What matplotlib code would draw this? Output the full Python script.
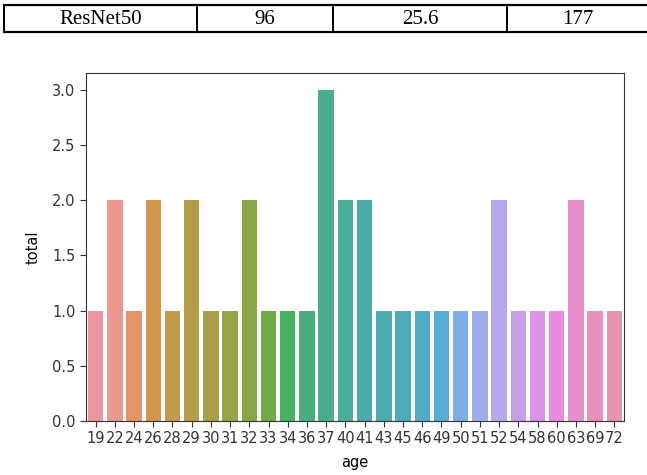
import matplotlib
matplotlib.use("Agg")
from matplotlib import pyplot as plt
import seaborn as sns

# table row above the chart
row_cells = ["ResNet50", "96", "25.6", "177"]
col_edges = [4, 197, 333, 507, 649]

# bar chart data
ages = [19, 22, 24, 26, 28, 29, 30, 31, 32, 33, 34, 36, 37, 40, 41,
        43, 45, 46, 49, 50, 51, 52, 54, 58, 60, 63, 69, 72]
total = [1, 2, 1, 2, 1, 2, 1, 1, 2, 1, 1, 1, 3, 2, 2,
         1, 1, 1, 1, 1, 1, 2, 1, 1, 1, 2, 1, 1]

W, H = 647, 475
fig = plt.figure(figsize=(W / 100, H / 100), dpi=100)

# table drawn in pixel coordinates
tab = fig.add_axes([0, 0, 1, 1])
tab.set_xlim(0, W)
tab.set_ylim(H, 0)
tab.axis("off")
top, bot = 5, 32
tab.plot([col_edges[0], col_edges[-1]], [top, top], color="black", lw=1.6, clip_on=False)
tab.plot([col_edges[0], col_edges[-1]], [bot, bot], color="black", lw=1.6, clip_on=False)
for x in col_edges:
    tab.plot([x, x], [top, bot], color="black", lw=1.4, clip_on=False)
for i, txt in enumerate(row_cells):
    cx = (col_edges[i] + col_edges[i + 1]) / 2
    tab.text(cx, (top + bot) / 2 + 1, txt, ha="center", va="center",
             family="Liberation Serif", fontsize=15)

# old seaborn style colours: husl palette, desaturated
pal = [sns.desaturate(c, 0.75) for c in sns.husl_palette(len(ages), l=.7)]

ax = fig.add_axes([86 / W, 1 - 421 / H, (624 - 86) / W, (421 - 73) / H])
x = range(len(ages))
ax.bar(x, total, width=0.8, color=pal)
ax.set_xlim(-0.5, len(ages) - 0.5)
ax.set_ylim(0, 3.15)
ax.set_xticks(list(x))
ax.set_xticklabels([str(a) for a in ages], fontsize=10.5)
ax.set_yticks([0, 0.5, 1.0, 1.5, 2.0, 2.5, 3.0])
ax.set_yticklabels(["0.0", "0.5", "1.0", "1.5", "2.0", "2.5", "3.0"], fontsize=10.5)
ax.set_xlabel("age", fontsize=10.5, labelpad=6)
ax.set_ylabel("total", fontsize=10.5, labelpad=8)
ax.tick_params(colors="#333333", labelcolor="#333333", length=4)
for s in ax.spines.values():
    s.set_color("#333333")

fig.savefig("out.png", dpi=100)
